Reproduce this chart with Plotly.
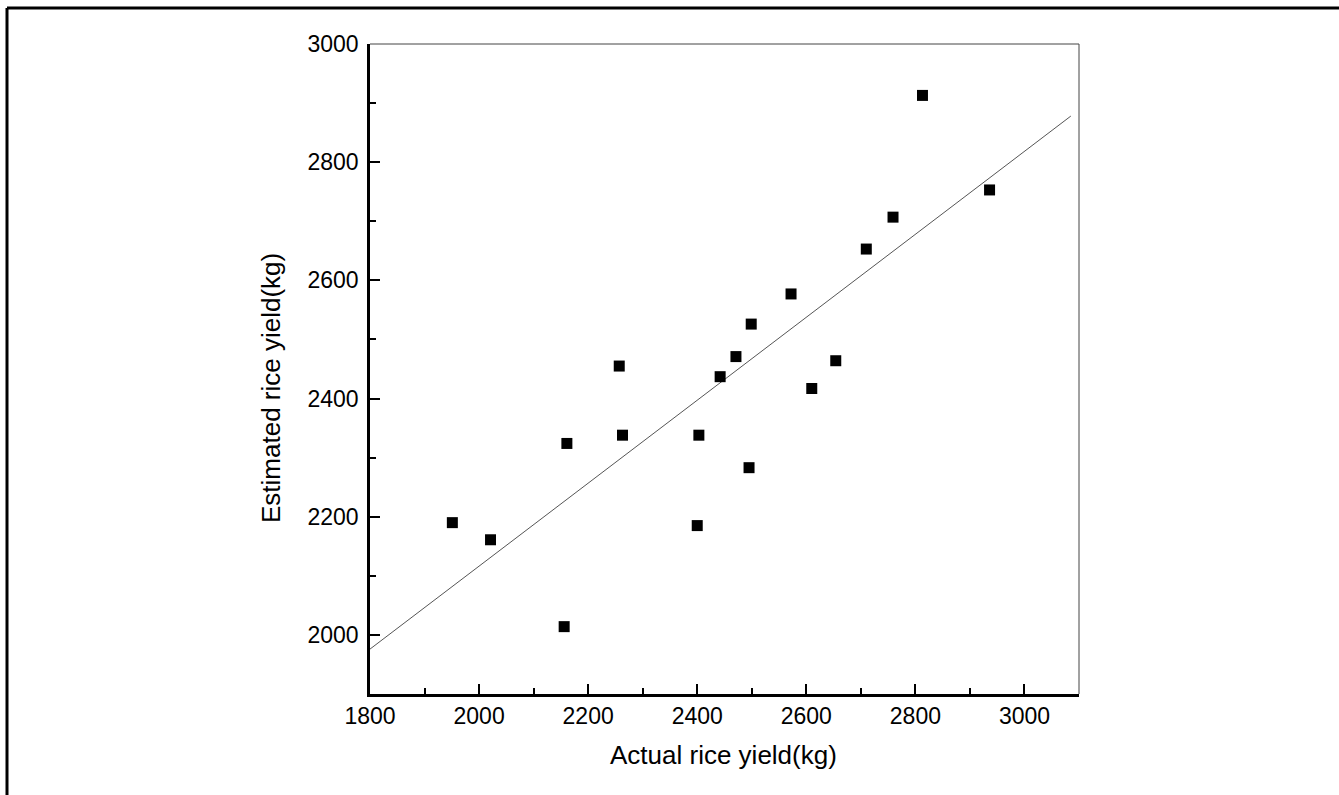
import plotly.graph_objects as go

# Data
actual_yield = [1951, 2021, 2156, 2161, 2257, 2263, 2400, 2403, 2442, 2471,
                2495, 2499, 2572, 2610, 2654, 2710, 2759, 2813, 2936]
estimated_yield = [2190, 2161, 2014, 2324, 2455, 2338, 2185, 2338, 2437, 2471,
                   2283, 2526, 2577, 2417, 2464, 2653, 2707, 2913, 2753]
fit_x = [1800, 3085]
fit_y = [1976, 2878]

x_title = "Actual rice yield(kg)"
y_title = "Estimated rice yield(kg)"

FONT = "Liberation Sans, Arial, sans-serif"

fig = go.Figure()
fig.add_trace(go.Scatter(
    x=fit_x, y=fit_y, mode="lines",
    line=dict(color="#555555", width=1),
    hoverinfo="skip", showlegend=False,
))
fig.add_trace(go.Scatter(
    x=actual_yield, y=estimated_yield, mode="markers",
    marker=dict(symbol="square", size=11, color="black", line=dict(width=0)),
    showlegend=False,
))

W, H = 1339, 795
L, R, T, B = 370, 1079, 44, 694
pw, ph = R - L, B - T

def px(xp):
    return (xp - L) / pw

def py(yp):
    return (B - yp) / ph

axis_common = dict(
    showgrid=False, zeroline=False,
    showline=True, linecolor="black", linewidth=2.5,
    ticks="inside", ticklen=10, tickwidth=2, tickcolor="black",
    tickfont=dict(family=FONT, size=23, color="black"),
)

fig.update_xaxes(
    range=[1800, 3100], tick0=1800, dtick=200,
    minor=dict(dtick=100, tick0=1800, ticks="inside", ticklen=6, tickwidth=2, tickcolor="black"),
    ticklabelstandoff=0,
    **axis_common,
)
fig.update_yaxes(
    range=[1900, 3000], tick0=2000, dtick=200,
    minor=dict(dtick=100, tick0=1900, ticks="inside", ticklen=6, tickwidth=2, tickcolor="black"),
    ticklabelstandoff=4,
    **axis_common,
)

shapes = [
    # thin top and right plot borders
    dict(type="line", xref="paper", yref="paper", x0=0, x1=1, y0=1, y1=1,
         line=dict(color="#444444", width=1)),
    dict(type="line", xref="paper", yref="paper", x0=1, x1=1, y0=0, y1=1,
         line=dict(color="#444444", width=1)),
    # outer frame (left and top)
    dict(type="line", xref="paper", yref="paper", x0=px(7), x1=px(7), y0=py(H + 5), y1=py(8),
         line=dict(color="black", width=3)),
    dict(type="line", xref="paper", yref="paper", x0=px(7), x1=px(W + 5), y0=py(8), y1=py(8),
         line=dict(color="black", width=3)),
]

annotations = [
    dict(text=x_title, xref="paper", yref="paper", x=px(723), y=py(755),
         xanchor="center", yanchor="middle", showarrow=False,
         font=dict(family=FONT, size=26, color="black")),
    dict(text=y_title, xref="paper", yref="paper", x=px(271), y=py(388),
         xanchor="center", yanchor="middle", showarrow=False, textangle=-90,
         font=dict(family=FONT, size=26, color="black")),
]

fig.update_layout(
    width=W, height=H,
    margin=dict(l=L, r=W - R, t=T, b=H - B, pad=0),
    paper_bgcolor="white", plot_bgcolor="white",
    shapes=shapes, annotations=annotations,
    font=dict(family=FONT, color="black"),
)

fig.write_html(
    "out.html",
    config={"displayModeBar": False},
    post_script="document.body.style.margin='0';document.body.style.overflow='hidden';",
)
